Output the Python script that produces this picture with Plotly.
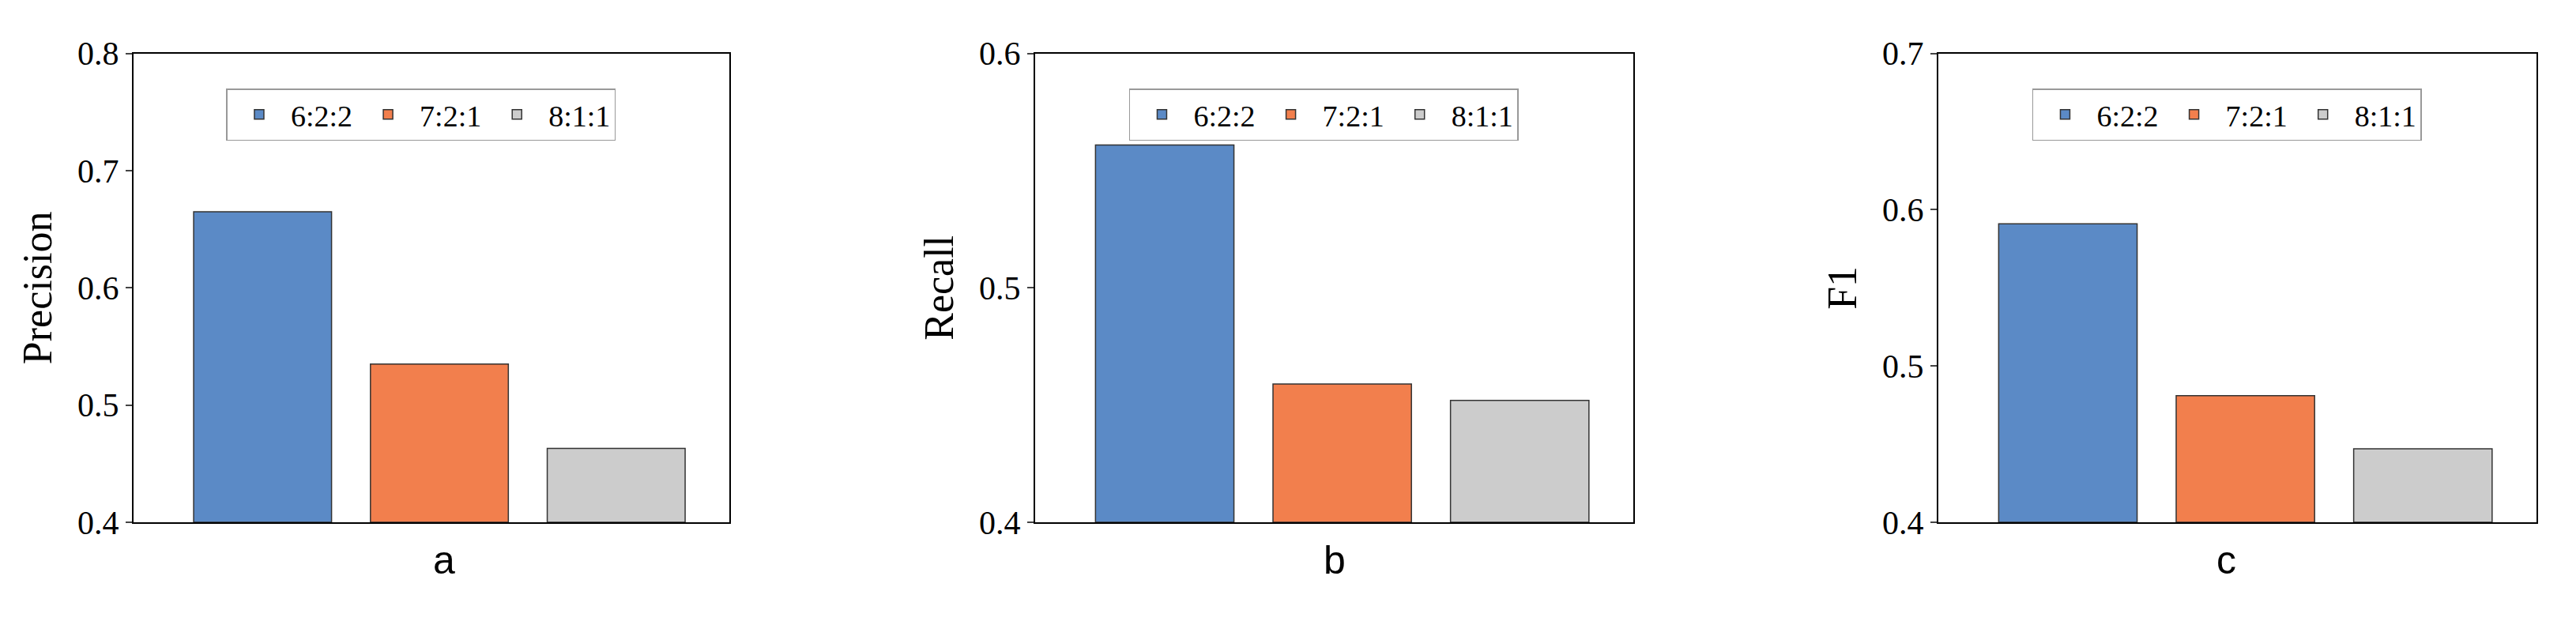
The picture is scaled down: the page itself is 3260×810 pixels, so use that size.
import plotly.graph_objects as go

categories = ["6:2:2", "7:2:1", "8:1:1"]
precision = [0.665, 0.535, 0.463]
recall = [0.561, 0.459, 0.452]
f1 = [0.591, 0.481, 0.447]
panels = [("Precision", precision, [0.4, 0.8], "a"),
          ("Recall", recall, [0.4, 0.6], "b"),
          ("F1", f1, [0.4, 0.7], "c")]
colors = ["#5b8ac6", "#f27f4d", "#cccccc"]

W, H = 3260, 810
xdoms = [(161, 915), (1302, 2059), (2445, 3202)]
ytop, ybot = 40, 669

fig = go.Figure()
for i, (name, vals, yr, lab) in enumerate(panels):
    n = "" if i == 0 else str(i + 1)
    leg = "legend" + n
    for j, c in enumerate(categories):
        fig.add_trace(go.Bar(x=[j], y=[vals[j] - yr[0]], base=yr[0], name=c,
                             marker=dict(color=colors[j], line=dict(color="#333", width=1.5)),
                             width=0.78, xaxis="x" + n, yaxis="y" + n, legend=leg))
    d = [xdoms[i][0] / W, xdoms[i][1] / W]
    fig.layout["xaxis" + n] = dict(domain=d, range=[-0.73, 2.64], showticklabels=False, ticks="",
                                   showline=True, mirror=True, linecolor="black", linewidth=2,
                                   showgrid=False, zeroline=False, anchor="y" + n)
    fig.layout["yaxis" + n] = dict(domain=[1 - ybot / H, 1 - ytop / H], range=yr, dtick=0.1,
                                   tickformat=".1f", ticks="outside", ticklen=8, tickwidth=2,
                                   showline=True, mirror=True, linecolor="black", linewidth=2,
                                   showgrid=False, zeroline=False, anchor="x" + n,
                                   title=dict(text=name, font=dict(size=52, family="Liberation Serif"), standoff=16),
                                   tickfont=dict(size=42, family="Liberation Serif"))
    fig.layout[leg] = dict(orientation="h", x=(d[0] + d[1]) / 2 - 0.004, xanchor="center",
                           y=1 - 122 / H, yanchor="middle", xref="paper", yref="paper",
                           bgcolor="white", bordercolor="#999", borderwidth=1.5,
                           font=dict(size=38, family="Liberation Serif"), itemwidth=70)
    fig.add_annotation(text=lab, x=(d[0] + d[1]) / 2, y=1 - 752 / H, xref="paper", yref="paper",
                       showarrow=False, font=dict(size=50, family="Liberation Sans", color="black"))

fig.update_layout(width=W, height=H, margin=dict(l=0, r=0, t=0, b=0), plot_bgcolor="white",
                  paper_bgcolor="white", barmode="overlay", showlegend=True,
                  font=dict(color="black"))
fig.write_html("out.html")
